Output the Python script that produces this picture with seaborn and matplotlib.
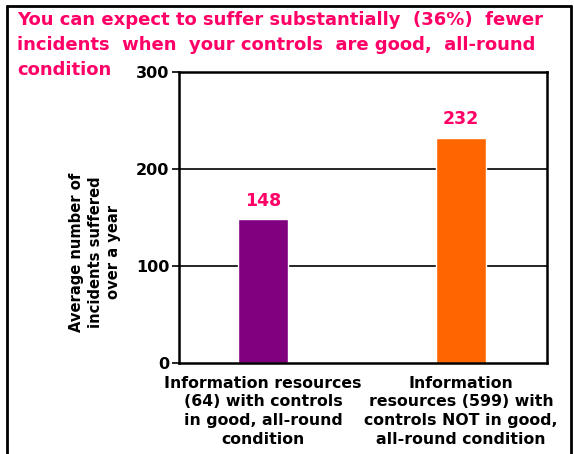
import matplotlib
matplotlib.use("Agg")
import matplotlib.pyplot as plt
import seaborn as sns
import pandas as pd

categories = [
    "Information resources\n(64) with controls\nin good, all-round\ncondition",
    "Information\nresources (599) with\ncontrols NOT in good,\nall-round condition",
]
values = [148, 232]
colors = ["#800080", "#FF6600"]
yticks = [0, 100, 200, 300]
title_lines = ["You can expect to suffer substantially  (36%)  fewer",
               "incidents  when  your controls  are good,  all-round",
               "condition"]
ylabel = "Average number of\nincidents suffered\nover a year"
pink = "#FF0066"

sns.set_theme(style="white")
plt.rcParams['font.family'] = ['DejaVu Sans']

df = pd.DataFrame({"cat": categories, "val": values})

fig = plt.figure(figsize=(5.74, 4.54), dpi=100)
fig.patch.set_facecolor("white")
W, H = 574, 454
fig.add_artist(plt.Line2D([7 / W, 7 / W], [0, 1 - 6 / H], color="black", lw=2, transform=fig.transFigure))
fig.add_artist(plt.Line2D([7 / W, 571 / W], [1 - 6 / H, 1 - 6 / H], color="black", lw=2, transform=fig.transFigure))
fig.add_artist(plt.Line2D([571 / W, 571 / W], [0, 1 - 6 / H], color="black", lw=2, transform=fig.transFigure))

ax = fig.add_axes([179 / W, 91 / H, 368 / W, 291 / H])
sns.barplot(data=df, x="cat", y="val", hue="cat", palette=colors, legend=False,
            width=0.25, saturation=1, ax=ax)
ax.set_xlim(-0.425, 1.435)
ax.set_ylim(0, 300)
ax.set_yticks(yticks)
ax.set_yticklabels([str(t) for t in yticks], fontsize=11.5, fontweight="bold", color="black")
ax.set_xticks(range(len(categories)))
ax.set_xticklabels(categories, fontsize=11.3, fontweight="bold", color="black", linespacing=1.33)
ax.tick_params(axis="y", left=True, length=5, width=1.2, color="black", pad=2)
ax.tick_params(axis="x", bottom=False, pad=3)
for t in yticks[1:3]:
    ax.axhline(t, color="black", lw=1.2, zorder=0)
for s in ax.spines.values():
    s.set_color("black")
    s.set_linewidth(1.8)
    s.set_visible(True)
ax.set_xlabel("")
ax.set_ylabel("")
for c in ax.containers:
    ax.bar_label(c, fmt="%d", padding=7, fontsize=12.5,
                 fontweight="bold", color=pink)

for i, line in enumerate(title_lines):
    fig.text(17 / W, 1 - (20 + 25 * i) / H, line, ha="left", va="center", fontsize=13,
             fontweight="bold", color=pink)
fig.text(95 / W, 1 - 252 / H, ylabel, ha="center", va="center", rotation=90,
         fontsize=10.6, fontweight="bold", color="black", linespacing=1.33)

fig.savefig("out.png", dpi=100, facecolor="white")
